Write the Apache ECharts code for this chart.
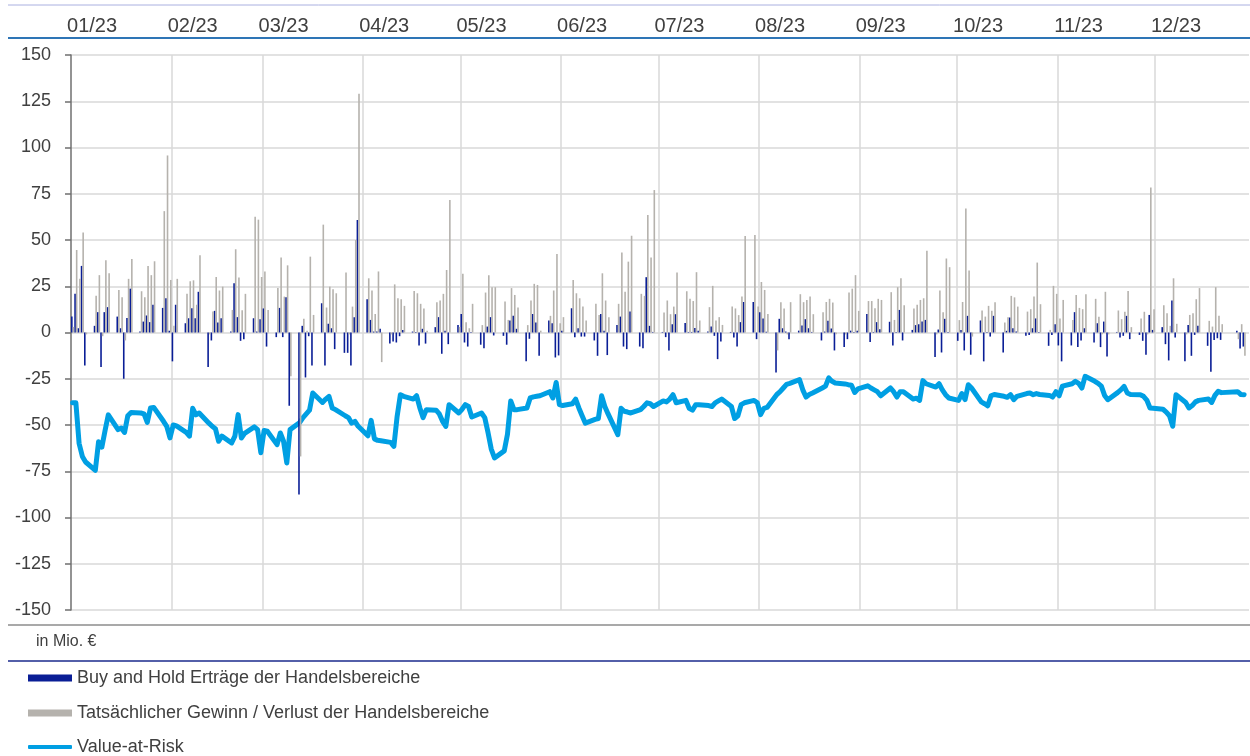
<!DOCTYPE html>
<html><head><meta charset="utf-8">
<script src="https://cdn.jsdelivr.net/npm/echarts@6/dist/echarts.min.js"></script>
<style>html,body{margin:0;padding:0;background:#fff}#c{width:1250px;height:756px}</style>
</head><body><div id="c"></div>
<script>
const monthLabels = ['01/23','02/23','03/23','04/23','05/23','06/23','07/23','08/23','09/23','10/23','11/23','12/23'];
const monthStartDoy = [0,31,59,90,120,151,181,212,243,273,304,334];
const yTicks = { min: -150, max: 150, step: 25 };

const tradingDates = [
'01-02','01-03','01-04','01-05','01-06','01-09','01-10','01-11','01-12','01-13',
'01-16','01-17','01-18','01-19','01-20','01-23','01-24','01-25','01-26','01-27',
'01-30','01-31','02-01','02-02','02-03','02-06','02-07','02-08','02-09','02-10',
'02-13','02-14','02-15','02-16','02-17','02-20','02-21','02-22','02-23','02-24',
'02-27','02-28','03-01','03-02','03-03','03-06','03-07','03-08','03-09','03-10',
'03-13','03-14','03-15','03-16','03-17','03-20','03-21','03-22','03-23','03-24',
'03-27','03-28','03-29','03-30','03-31','04-03','04-04','04-05','04-06','04-07',
'04-10','04-11','04-12','04-13','04-14','04-17','04-18','04-19','04-20','04-21',
'04-24','04-25','04-26','04-27','04-28','05-01','05-02','05-03','05-04','05-05',
'05-08','05-09','05-10','05-11','05-12','05-15','05-16','05-17','05-18','05-19',
'05-22','05-23','05-24','05-25','05-26','05-29','05-30','05-31','06-01','06-02',
'06-05','06-06','06-07','06-08','06-09','06-12','06-13','06-14','06-15','06-16',
'06-19','06-20','06-21','06-22','06-23','06-26','06-27','06-28','06-29','06-30',
'07-03','07-04','07-05','07-06','07-07','07-10','07-11','07-12','07-13','07-14',
'07-17','07-18','07-19','07-20','07-21','07-24','07-25','07-26','07-27','07-28',
'07-31','08-01','08-02','08-03','08-04','08-07','08-08','08-09','08-10','08-11',
'08-14','08-15','08-16','08-17','08-18','08-21','08-22','08-23','08-24','08-25',
'08-28','08-29','08-30','08-31','09-01','09-04','09-05','09-06','09-07','09-08',
'09-11','09-12','09-13','09-14','09-15','09-18','09-19','09-20','09-21','09-22',
'09-25','09-26','09-27','09-28','09-29','10-02','10-03','10-04','10-05','10-06',
'10-09','10-10','10-11','10-12','10-13','10-16','10-17','10-18','10-19','10-20',
'10-23','10-24','10-25','10-26','10-27','10-30','10-31','11-01','11-02','11-03',
'11-06','11-07','11-08','11-09','11-10','11-13','11-14','11-15','11-16','11-17',
'11-20','11-21','11-22','11-23','11-24','11-27','11-28','11-29','11-30','12-01',
'12-04','12-05','12-06','12-07','12-08','12-11','12-12','12-13','12-14','12-15',
'12-18','12-19','12-20','12-21','12-22','12-27','12-28','12-29'
];

const buyHold = [
8.6,20.9,2.3,36,-17.8, 3.6,11,-18.7,11,13.7,
8.6,2.3,-25,7.9,23.7, 0.5,5.9,9.2,5.6,15,
13.3,18.5,1,-15.6,15, 5,7.7,13.1,7.7,22,
-18.7,-4.3,11.7,5.4,7.7, 0.5,26.6,8.3,-4.5,-3.6,
7.7,0.5,7.2,13,-7.6, -2.5,13.3,-2.5,19,-39.6,
-87.6,3.6,-24.3,-2,-17.8, 15.8,-17.8,4.7,2.3,-9,
-11,-11,-17.8,8.3,60.8, 18,6.8,0.5,0.5,2,
-6,-4.9,-5.4,-2,1.4, 0.5,0.3,-7,2,-6,
2.9,8.3,-11.5,1,-6.3, 4,10,-5.4,-7.6,0.3,
-6.6,-8.5,3.2,8.3,-1.6, -1.8,-6.6,6.5,9,2,
-15.6,-3.4,10,5.4,-12.6, 6.5,5,-13.5,-12.4,1,
13.1,-2.5,2.3,-2.2,-2.2, -4.3,-12.6,10,1,-12.2,
4.1,8.6,-7.6,-9,11.3, -7.6,-8.5,29.9,3.6,0.3,
0.3,-2.5,-9.7,4.5,9.9, 5.2,0.3,0.3,2.5,1,
0.5,3.2,-1.8,-14.4,-4.9, 0.3,-2.7,-7.6,5.6,16.5,
16.5,-3.6,11,7.6,0.4, -21.6,7.4,2.3,0.5,-3.6,
1,3.8,7.2,2.3,0.3, -4.3,0.5,6.3,2.2,-9.7,
-7.9,-3.6,1,0.3,1, 10,-5.2,0.3,5.6,1.8,
5.8,-7,0.3,12.2,-4.3, 1.4,4,4.5,5.9,6.8,
-13.3,1.6,-10.8,7.4,0.3, -4.5,1.4,-9.7,9,-12,
6.5,-15.6,0.3,-2.2,9, -10.8,0.9,8.1,2.3,0.5,
-1.8,-1.3,2.3,7.6,0.3, -7.2,-1.3,4.5,-7,-15.6,
-7,11,-7.9,-4.3,2.3, -5.4,5,-7.9,5.9,-13,
0.3,-2.7,-1.8,9,-3.6, -1.3,-4.5,-12,9.5,1.4,
2.9,-6.3,-15.1,17.3,-2.7, -15.6,4,-12.6,-1.3,3.6,
-7.2,-21.2,-4,-3.1,-4, 1,-8.6,-7.6
];

const actualPL = [
3,44.6,29,54,-1, 19.8,31,-2,39,32,
23,19,-4.3,29,39.7, 22.3,19,36,31,38.5,
65.6,95.7,28.4,3.6,29, 20.9,27.7,28.2,15,41.7,
-1,11.3,30,22.7,24.8, 12.2,45,29.7,12,20.9,
62.6,61,30,33,12.2, 24,40.5,19.4,36.3,-23.7,
-67,7.4,1,41,9.5, 58.3,13.5,24.8,23.4,21.2,
32.4,-1,14,50,129, 29.3,22.7,10,33,-16,
-1,26,18.5,18,14.4, 22.5,21.2,15.5,13,1,
16.4,17.3,20.9,33.8,71.6, 3,31.7,5.6,2.3,15.5,
4,21.6,31,24.5,24.5, 16.7,6.8,24,20.3,13.5,
4,17.3,26.3,25.7,1, 9,22.7,42.4,5,8.3,
28.4,21.2,18.5,14,6.5, 15.5,9.5,32,17.3,8.3,
15.5,43.3,22,38.3,52.3, 20.9,19.8,63.5,40.6,77,
10.8,17.3,9.9,14,32.4, 22.3,18.3,17,32.6,6.5,
13.7,25.2,6.5,8.3,4.1, 14,13,9.4,19.4,52.2,
52.7,14,27.3,23,10, -9.7,16.4,13,-1,16.4,
20.7,16.4,17.6,19.4,9.9, 11,16.5,18.2,16.2,-1,
-1,21.6,23.7,31,11.7, 17,17,13.1,18.2,17.6,
21.8,6.8,24.5,29.3,14.7, 13,15,17.6,18.5,44.2,
-1,22.7,11,40,35.3, 6.7,16.5,67,33.5,-2.2,
11.9,8.6,14.4,11.7,16.4, 5.4,8.3,19.8,19,14,
11.3,12.6,19.4,37.8,15.3, 1.4,25.2,20.9,7.6,17.6,
6.8,20.3,13.3,12.6,20.7, 18.2,8.5,-1,22,-1,
11.9,7.2,11.2,22.5,2.9, 7.6,11.2,-1,78.4,12.6,
14.7,10.4,3.6,29.3,4.7, -1,9.5,10.4,18,24,
6.3,3.2,24.5,9,4.5, -3.6,4.5,-12.6
];

const valueAtRisk = [
-38,-38,-60,-67,-70, -74.5,-59,-62,-53,-44.5,
-52.5,-51.6,-54,-45,-43.3, -43.5,-44,-48.6,-40.8,-40.5,
-48,-50.7,-57,-50,-50.5, -54,-56,-41,-44.5,-43.5,
-49,-50.7,-52,-58.8,-56, -59.7,-56,-44.4,-57,-54.5,
-51,-52.5,-65,-53,-53.4, -60.6,-54.3,-58.8,-70.5,-52.5,
-48.6,-46,-44,-42,-32.7, -37.8,-36,-34.5,-40.8,-41.7,
-45,-46,-49,-48,-50.7, -55.8,-47.5,-57.5,-58.3,-58.5,
-59.4,-61.5,-45.3,-33.6,-34.5, -36,-34.2,-40.8,-46,-41.7,
-42,-44,-48,-50.7,-39, -43.5,-41.5,-39,-40,-45.7,
-43.5,-46,-54,-63,-67.8, -64,-55,-37,-41.7,-41.7,
-40.8,-35.4,-34.8,-34.5,-34.2, -32,-35.4,-27,-39,-39.5,
-38.5,-36,-40.8,-45,-49, -47,-46.5,-34.2,-40,-44,
-55.2,-41,-42.6,-43,-43.5, -41.7,-40,-38,-38.5,-40,
-37,-37.5,-36,-33.6,-38, -36.7,-41,-42,-39,-39,
-39.5,-40,-38,-37,-36, -40,-46.5,-45,-39,-38,
-36.7,-38,-44.4,-41,-40.5, -33.5,-32,-30,-28,-27.5,
-25.5,-31,-34.9,-33.5,-32.7, -30,-29,-24.5,-26.4,-27.3,
-27.8,-28.2,-28.5,-32.4,-30.5, -28.8,-30,-31,-32,-34.2,
-30,-32,-34.9,-32,-32, -36,-35.5,-36.7,-26,-27.7,
-29.5,-27.7,-31,-33.6,-35.4, -36.7,-33,-36.3,-28.2,-30,
-37.5,-38.5,-39.6,-34.2,-33.5, -34.5,-35,-33.6,-36.3,-34.5,
-33,-32.7,-33.6,-33,-33.5, -34,-34.9,-32,-34.2,-29,
-27.7,-26.4,-27.5,-30,-23.7, -26.4,-27.5,-29,-34,-36.3,
-32.5,-31,-29.1,-32.7,-33.5, -33.6,-34.5,-36.5,-40.8,-41,
-41.5,-43,-45,-50.7,-33.6, -37.8,-40.8,-39.5,-37.5,-36.7,
-36,-37.8,-34,-31.8,-32.5, -32,-33.5,-33.6
];

const seriesNames = ['Buy and Hold Erträge der Handelsbereiche','Tatsächlicher Gewinn / Verlust der Handelsbereiche','Value-at-Risk'];

// calendar axis: one slot per day of 2023 (slot i holds the day i+1 days after 1 Jan)
const DAY = 86400000, BASE = Date.UTC(2023,0,1), NSLOTS = 363;
const pad = n => (n < 10 ? '0' : '') + n;
const slots = [];
for (let i = 0; i < NSLOTS; i++) { const d = new Date(BASE + (i + 1) * DAY); slots.push(pad(d.getUTCMonth()+1) + '-' + pad(d.getUTCDate())); }
const slotOf = md => { const [m, d] = md.split('-').map(Number); return Math.round((Date.UTC(2023, m-1, d) - BASE) / DAY) - 1; };
function place(values) { const out = new Array(NSLOTS).fill(null); tradingDates.forEach((md, k) => { out[slotOf(md)] = values[k]; }); return out; }
const labelSlots = monthStartDoy.map(s => s + 6);
const gridSlots = monthStartDoy.slice(1);

const FONT = 'Liberation Sans';
const TXT = '#404040';
const chart = echarts.init(document.getElementById('c'), null, { renderer: 'canvas' });
const legendBase = (top, name, icon, h) => ({
  left: 28, top, padding: 0, itemWidth: 44, itemHeight: h, itemGap: 0, selectedMode: false,
  textStyle: { fontFamily: FONT, fontSize: 18, color: TXT, padding: [0,0,0,0] },
  data: [{ name, icon }]
});
chart.setOption({
  animation: false,
  backgroundColor: '#fff',
  grid: { left: 71, right: 1, top: 55, bottom: 146, containLabel: false },
  xAxis: [
    { type: 'category', data: slots, boundaryGap: true, position: 'bottom',
      axisLine: { show: false }, axisTick: { show: false }, axisLabel: { show: false },
      splitLine: { show: true, showMaxLine: false, interval: (i) => gridSlots.includes(i),
        lineStyle: { color: '#d9d9d9', width: 1.5 } } },
    { type: 'category', data: slots, boundaryGap: true, position: 'top',
      axisLine: { show: false }, axisTick: { show: false }, splitLine: { show: false },
      axisLabel: { show: true, interval: (i) => labelSlots.includes(i), margin: 19,
        formatter: (v, i) => monthLabels[labelSlots.indexOf(i)] || '',
        fontFamily: FONT, fontSize: 20, color: TXT } }
  ],
  yAxis: {
    type: 'value', min: yTicks.min, max: yTicks.max, interval: yTicks.step,
    axisLine: { show: true, lineStyle: { color: '#6f6f6f', width: 1.5 } },
    axisTick: { show: true, length: 6, lineStyle: { color: '#6f6f6f', width: 1.5 } },
    axisLabel: { fontFamily: FONT, fontSize: 18, color: TXT, margin: 20 },
    splitLine: { show: true, lineStyle: { color: '#d9d9d9', width: 1.5 } }
  },
  legend: [
    legendBase(669, seriesNames[0], 'rect', 7),
    legendBase(704, seriesNames[1], 'rect', 7),
    legendBase(738, seriesNames[2], 'roundRect', 4)
  ],
  graphic: [
    { type: 'line', shape: { x1: 8, y1: 5, x2: 1250, y2: 5 }, style: { stroke: '#aab0e0', lineWidth: 1 } },
    { type: 'line', shape: { x1: 8, y1: 38, x2: 1250, y2: 38 }, style: { stroke: '#2e75b6', lineWidth: 2 } },
    { type: 'line', shape: { x1: 8, y1: 625, x2: 1250, y2: 625 }, style: { stroke: '#8c8c8c', lineWidth: 1.5 } },
    { type: 'text', left: 36, top: 634, style: { text: 'in Mio. €', font: '16px "Liberation Sans"', fill: TXT } },
    { type: 'line', shape: { x1: 8, y1: 661, x2: 1250, y2: 661 }, style: { stroke: '#1a2a8c', lineWidth: 1.5 } }
  ],
  series: [
    { name: seriesNames[0], type: 'bar', data: place(buyHold), barWidth: 1.6, barGap: '0%', z: 3,
      itemStyle: { color: '#0a1e96' } },
    { name: seriesNames[1], type: 'bar', data: place(actualPL), barWidth: 1.6, barGap: '0%', z: 3,
      itemStyle: { color: '#b5b2ad' } },
    { name: seriesNames[2], type: 'line', data: place(valueAtRisk), connectNulls: true, symbol: 'none', z: 2,
      lineStyle: { color: '#009fe3', width: 5, cap: 'round', join: 'round' }, itemStyle: { color: '#009fe3' } }
  ]
});
</script></body></html>
